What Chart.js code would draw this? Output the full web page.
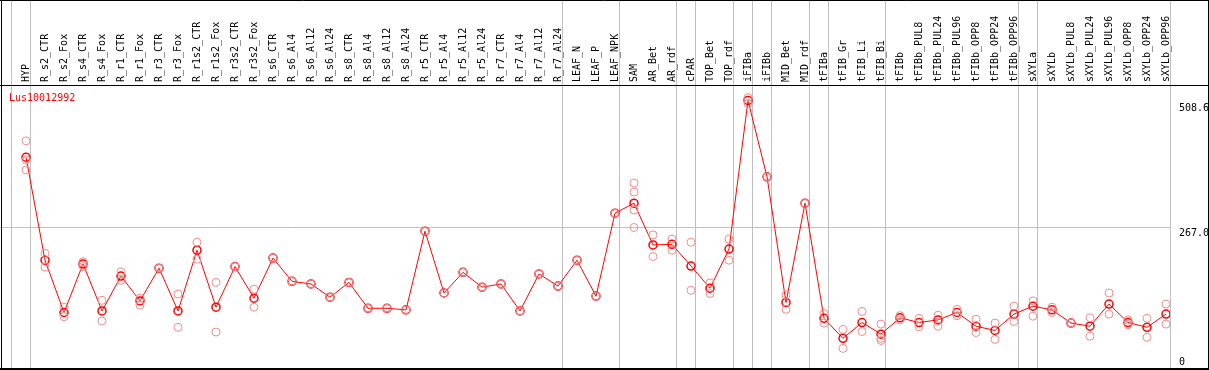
<!DOCTYPE html>
<html><head><meta charset="utf-8">
<script src="https://cdn.jsdelivr.net/npm/chart.js@4.4.0/dist/chart.umd.min.js"></script>
<style>html,body{margin:0;padding:0;background:#fff;overflow:hidden}#wrap{position:relative;width:1209px;height:370px}</style>
</head><body><div id="wrap"><canvas id="c" width="1209" height="370"></canvas></div>
<script>
const geneName = 'Lus10012992';
const categories = ['HYP','R_s2_CTR','R_s2_Fox','R_s4_CTR','R_s4_Fox','R_r1_CTR','R_r1_Fox','R_r3_CTR','R_r3_Fox','R_r1s2_CTR','R_r1s2_Fox','R_r3s2_CTR','R_r3s2_Fox','R_s6_CTR','R_s6_Al4','R_s6_Al12','R_s6_Al24','R_s8_CTR','R_s8_Al4','R_s8_Al12','R_s8_Al24','R_r5_CTR','R_r5_Al4','R_r5_Al12','R_r5_Al24','R_r7_CTR','R_r7_Al4','R_r7_Al12','R_r7_Al24','LEAF_N','LEAF_P','LEAF_NPK','SAM','AR_Bet','AR_rdf','cPAR','TOP_Bet','TOP_rdf','iFIBa','iFIBb','MID_Bet','MID_rdf','tFIBa','tFIB_Gr','tFIB_Li','tFIB_Bi','tFIBb','tFIBb_PUL8','tFIBb_PUL24','tFIBb_PUL96','tFIBb_OPP8','tFIBb_OPP24','tFIBb_OPP96','sXYLa','sXYLb','sXYLb_PUL8','sXYLb_PUL24','sXYLb_PUL96','sXYLb_OPP8','sXYLb_OPP24','sXYLb_OPP96'];
const meanValues = [401,206,107,199,110,176,129,191,110,225,117,194,134,210,166,161,136,164,115,115,112,261,144,183,155,161,110,180,157,206,138,295,314,235,236,195,153,227,508.6,364,126,314,96,58,88,66,97,88,93,107,81,73,104,119,112,87,81,123,88,79,104];
const replicateValues = [
[432,396,377],[219,193],[117,99],[203,194],[130,91],[184,168],[134,121],[191],[142,79],[240,208],
[164,70],[194],[151,117],[210],[166],[161],[136],[164],[115],[115],
[112],[261],[144],[183],[155],[161],[110],[180],[157],[206],
[138],[295],[352,335,301,268],[254,213],[246,225],[240,149],[163,143],[246,206],[514,503],[364],
[140,113],[314],[105,87],[75,39],[109,71],[85,54,58],[101,93],[96,80],[102,81],[113,101],
[94,69],[87,56],[119,90],[129,100],[117,107],[87],[97,62],[144,104],[93,84],[96,60],[123,85]
];
const yTickValues = [0, 267.0, 508.6];
const yTickLabels = ['0', '267.0', '508.6'];
const groupEnds = [-1, 0, 28, 31, 34, 35, 37, 38, 39, 41, 42, 45, 52, 53];

const X_MIN = -26/19, X_MAX = 1144/19, Y_MAX = 284/0.52809;
const SEP_DX = 0.235, LABEL_DX = 12/19;
const GRID = '#c0c0c0', RED = '#ff0000', PINK = 'rgb(240,140,140)';
const sepValues = groupEnds.map(g => g + SEP_DX).concat([X_MAX]);
const sepSet = new Set(sepValues);
const labelMap = new Map(categories.map((c, i) => [i + LABEL_DX, c]));
const MONO = 'DejaVu Sans Mono';

const repPoints = [];
replicateValues.forEach((arr, i) => arr.forEach(v => repPoints.push({x: i, y: v})));
const meanPoints = meanValues.map((v, i) => ({x: i, y: v}));

const framePlugin = {
  id: 'frame',
  afterDraw(chart) {
    const ctx = chart.ctx;
    ctx.save();
    ctx.strokeStyle = '#000'; ctx.lineWidth = 1;
    const ln = (a,b,c,d) => { ctx.beginPath(); ctx.moveTo(a,b); ctx.lineTo(c,d); ctx.stroke(); };
    ln(0, 0.5, 1209, 0.5);
    ln(1.5, 0, 1.5, 370);
    ln(0, 85.5, 1208, 85.5);
    ln(1208.5, 0, 1208.5, 370);
    ctx.fillStyle = '#000';
    ctx.fillRect(0, 368, 1209, 2);
    ctx.fillStyle = RED;
    ctx.font = '10px "' + MONO + '"';
    ctx.textBaseline = 'alphabetic';
    ctx.textAlign = 'left';
    ctx.fillText(geneName, 9, 101);
    ctx.restore();
  }
};

new Chart(document.getElementById('c'), {
  type: 'line',
  data: {
    datasets: [
      { label: 'replicates', data: repPoints, showLine: false, pointRadius: 4, pointBorderWidth: 1,
        pointBorderColor: PINK, pointBackgroundColor: 'rgba(0,0,0,0)', borderColor: PINK, pointHoverRadius: 4 },
      { label: 'mean', data: meanPoints, borderColor: RED, borderWidth: 1, tension: 0,
        pointRadius: 4, pointBorderWidth: 1.5, pointBorderColor: RED, pointBackgroundColor: 'rgba(0,0,0,0)' }
    ]
  },
  options: {
    responsive: false, animation: false, devicePixelRatio: 1,
    layout: { autoPadding: false, padding: { top: 0, left: 0, right: 0, bottom: 1 } },
    plugins: { legend: { display: false }, tooltip: { enabled: false } },
    scales: {
      x: {
        type: 'linear', position: 'top', min: X_MIN, max: X_MAX,
        afterBuildTicks: s => { s.ticks = categories.map((c, i) => ({value: i + LABEL_DX})).concat(sepValues.map(v => ({value: v}))); },
        afterFit: s => { s.height = 85; s.paddingLeft = 0; s.paddingRight = 0; s.paddingTop = 0; s.paddingBottom = 0; },
        ticks: {
          autoSkip: false, minRotation: 90, maxRotation: 90, padding: -82, color: '#000',
          font: { family: MONO, size: 10 },
          callback: v => labelMap.has(v) ? labelMap.get(v) : ''
        },
        grid: {
          drawOnChartArea: true, drawTicks: true, tickLength: 85, lineWidth: 1,
          color: c => (c.tick && sepSet.has(c.tick.value)) ? GRID : 'rgba(0,0,0,0)',
          tickColor: c => (c.tick && sepSet.has(c.tick.value)) ? GRID : 'rgba(0,0,0,0)'
        },
        border: { display: false }
      },
      y: {
        type: 'linear', position: 'right', min: 0, max: Y_MAX,
        afterBuildTicks: s => { s.ticks = yTickValues.map(v => ({value: v})); },
        afterFit: s => { s.width = 39; s.paddingTop = 0; s.paddingBottom = 0; },
        ticks: {
          padding: 9, color: '#000',
          font: c => ({ family: MONO, size: 10, lineHeight: (c.tick && c.tick.value === 0) ? '14px' : (c.tick && c.tick.value === 267 ? '11px' : '16px') }),
          callback: v => { const i = yTickValues.indexOf(v); const t = yTickLabels[i]; return v === 0 ? [t, ''] : ['', t]; }
        },
        grid: { drawTicks: false, lineWidth: 1, color: c => (c.tick && c.tick.value === 267) ? GRID : 'rgba(0,0,0,0)' },
        border: { display: false }
      }
    }
  },
  plugins: [framePlugin]
});
</script></body></html>
